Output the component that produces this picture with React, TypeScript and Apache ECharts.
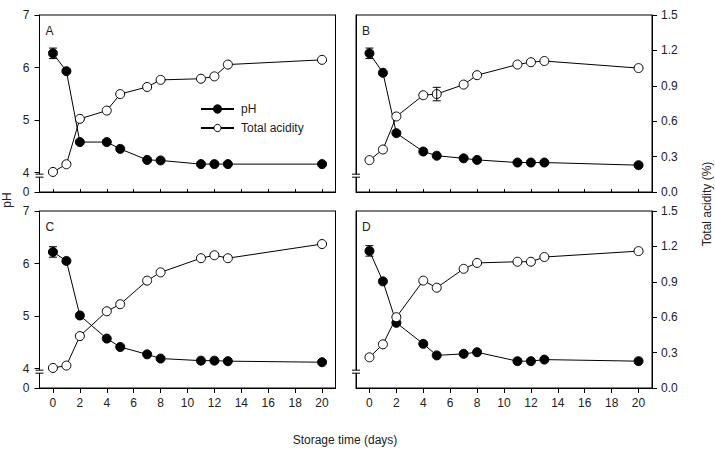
import React, { useEffect, useRef } from "react";
import * as echarts from "echarts";

// ---- data ----
const DAYS = [0, 1, 2, 4, 5, 7, 8, 11, 12, 13, 20];
const X_TICKS = [0, 2, 4, 6, 8, 10, 12, 14, 16, 18, 20];
const PH_TICKS = [4, 5, 6, 7];
const PH_BREAK_LABEL = "0";
const ACID_TICKS = [0, 0.3, 0.6, 0.9, 1.2, 1.5];
const PANEL_LABELS = ["A", "B", "C", "D"];

const PH_A = [6.27, 5.93, 4.58, 4.58, 4.45, 4.24, 4.23, 4.16, 4.16, 4.16, 4.16];
const PH_B = [6.27, 5.9, 4.75, 4.4, 4.32, 4.27, 4.24, 4.19, 4.19, 4.19, 4.14];
const PH_C = [6.22, 6.05, 5.01, 4.57, 4.41, 4.27, 4.19, 4.15, 4.15, 4.14, 4.12];
const PH_D = [6.24, 5.66, 4.87, 4.47, 4.25, 4.28, 4.31, 4.14, 4.14, 4.17, 4.14];

const ACID_A = [0.17, 0.235, 0.62, 0.69, 0.83, 0.89, 0.95, 0.96, 0.98, 1.08, 1.12];
const ACID_B = [0.27, 0.36, 0.64, 0.82, 0.83, 0.91, 0.99, 1.08, 1.1, 1.11, 1.05];
const ACID_C = [0.17, 0.19, 0.44, 0.65, 0.71, 0.91, 0.98, 1.1, 1.125, 1.1, 1.22];
const ACID_D = [0.26, 0.37, 0.6, 0.91, 0.85, 1.01, 1.06, 1.07, 1.07, 1.11, 1.16];

// error bars: [day, value, +/-]
const PH_ERR_A = [[0, 6.27, 0.1]];
const PH_ERR_B = [[0, 6.27, 0.1]];
const PH_ERR_C = [[0, 6.22, 0.1]];
const PH_ERR_D = [[0, 6.24, 0.1]];
const ACID_ERR_A: number[][] = [];
const ACID_ERR_B = [[5, 0.83, 0.057]];
const ACID_ERR_C: number[][] = [];
const ACID_ERR_D: number[][] = [];

const PH_SERIES = [PH_A, PH_B, PH_C, PH_D];
const ACID_SERIES = [ACID_A, ACID_B, ACID_C, ACID_D];
const PH_ERRS = [PH_ERR_A, PH_ERR_B, PH_ERR_C, PH_ERR_D];
const ACID_ERRS = [ACID_ERR_A, ACID_ERR_B, ACID_ERR_C, ACID_ERR_D];

// axis ranges
const PH_MIN = 3.629;
const PH_MAX = 7;
const X_MIN = -1;
const X_MAX = 21;

// ---- layout ----
const GRIDS = [
  { left: 39.5, top: 15, width: 296, height: 177 },
  { left: 356, top: 15, width: 296, height: 177 },
  { left: 39.5, top: 211, width: 296, height: 177 },
  { left: 356, top: 211, width: 296, height: 177 },
];
const FONT = "'Liberation Sans', Arial, sans-serif";
const TXT = "#222";

export default function App() {
  const ref = useRef<HTMLDivElement>(null);

  useEffect(() => {
    if (!ref.current) return;
    const chart = echarts.init(ref.current, undefined, { renderer: "svg" });

    const xAxes: any[] = [];
    const yAxes: any[] = [];
    const series: any[] = [];

    const errRender = (params: any, api: any) => {
      const x = api.value(0);
      const y = api.value(1);
      const e = api.value(2);
      const t = api.coord([x, y + e]);
      const b = api.coord([x, y - e]);
      const w = 4;
      const st = { stroke: "#000", lineWidth: 1 };
      return {
        type: "group",
        children: [
          { type: "line", shape: { x1: t[0], y1: t[1], x2: b[0], y2: b[1] }, style: st },
          { type: "line", shape: { x1: t[0] - w, y1: t[1], x2: t[0] + w, y2: t[1] }, style: st },
          { type: "line", shape: { x1: b[0] - w, y1: b[1], x2: b[0] + w, y2: b[1] }, style: st },
        ],
      };
    };

    GRIDS.forEach((g, i) => {
      const bottom = i >= 2;
      const leftCol = i % 2 === 0;
      xAxes.push({
        type: "value",
        gridIndex: i,
        min: X_MIN,
        max: X_MAX,
        position: "bottom",
        axisLine: { show: true, onZero: false, lineStyle: { color: "#000", width: 1 } },
        axisTick: {
          show: true,
          inside: !bottom,
          length: bottom ? 5 : 3,
          customValues: X_TICKS,
          lineStyle: { color: "#000" },
        },
        axisLabel: {
          show: bottom,
          customValues: X_TICKS,
          color: TXT,
          fontSize: 12,
          fontFamily: FONT,
          margin: 9,
        },
        splitLine: { show: false },
      });
      // pH axis (left)
      yAxes.push({
        type: "value",
        gridIndex: i,
        position: "left",
        min: PH_MIN,
        max: PH_MAX,
        axisLine: { show: true, onZero: false, lineStyle: { color: "#000", width: 1 } },
        axisTick: {
          show: leftCol,
          length: 5,
          customValues: [PH_MIN, ...PH_TICKS],
          lineStyle: { color: "#000" },
        },
        axisLabel: {
          show: leftCol,
          customValues: [PH_MIN, ...PH_TICKS],
          formatter: (v: number) => (Math.abs(v - PH_MIN) < 1e-6 ? PH_BREAK_LABEL : String(v)),
          color: TXT,
          fontSize: 12,
          fontFamily: FONT,
          margin: 10,
        },
        splitLine: { show: false },
      });
      // acidity axis (right)
      yAxes.push({
        type: "value",
        gridIndex: i,
        position: "right",
        min: 0,
        max: 1.5,
        interval: 0.3,
        axisLine: { show: true, onZero: false, lineStyle: { color: "#000", width: 1 } },
        axisTick: { show: !leftCol, length: 5, lineStyle: { color: "#000" } },
        axisLabel: {
          show: !leftCol,
          customValues: ACID_TICKS,
          formatter: (v: number) => v.toFixed(1),
          color: TXT,
          fontSize: 12,
          fontFamily: FONT,
          margin: 9,
        },
        splitLine: { show: false },
      });

      const phAxis = i * 2;
      const acAxis = i * 2 + 1;

      series.push({
        name: "pH",
        type: "line",
        xAxisIndex: i,
        yAxisIndex: phAxis,
        data: DAYS.map((d, k) => [d, PH_SERIES[i][k]]),
        symbol: "circle",
        symbolSize: 9,
        lineStyle: { color: "#000", width: 1 },
        itemStyle: { color: "#000", borderColor: "#000", borderWidth: 1 },
        z: 3,
      });
      series.push({
        name: "Total acidity",
        type: "line",
        xAxisIndex: i,
        yAxisIndex: acAxis,
        data: DAYS.map((d, k) => [d, ACID_SERIES[i][k]]),
        symbol: "circle",
        symbolSize: 9,
        lineStyle: { color: "#000", width: 1 },
        itemStyle: { color: "#fff", borderColor: "#000", borderWidth: 1 },
        z: 3,
      });
      if (PH_ERRS[i].length) {
        series.push({
          type: "custom",
          xAxisIndex: i,
          yAxisIndex: phAxis,
          data: PH_ERRS[i],
          renderItem: errRender,
          z: 4,
          silent: true,
        });
      }
      if (ACID_ERRS[i].length) {
        series.push({
          type: "custom",
          xAxisIndex: i,
          yAxisIndex: acAxis,
          data: ACID_ERRS[i],
          renderItem: errRender,
          z: 4,
          silent: true,
        });
      }
    });

    const option: any = {
      animation: false,
      backgroundColor: "#fff",
      textStyle: { fontFamily: FONT },
      grid: GRIDS.map((g) => ({
        ...g,
        show: true,
        borderColor: "#000",
        borderWidth: 1,
        backgroundColor: "transparent",
        containLabel: false,
      })),
      xAxis: xAxes,
      yAxis: yAxes,
      legend: {
        data: [
          { name: "pH", itemStyle: { color: "#000", borderColor: "#000" } },
          { name: "Total acidity", itemStyle: { color: "#fff", borderColor: "#000", borderWidth: 1 } },
        ],
        orient: "vertical",
        left: 195,
        top: 98,
        itemWidth: 33,
        itemHeight: 9,
        itemGap: 7,
        selectedMode: false,
        textStyle: { color: TXT, fontSize: 12, fontFamily: FONT, padding: [0, 0, 0, 2] },
      },
      series,
    };
    chart.setOption(option);

    // decorations: panel letters, axis breaks, axis titles
    const graphics: any[] = [];
    GRIDS.forEach((g, i) => {
      graphics.push({
        type: "text",
        left: g.left + 6,
        top: g.top + 10,
        style: { text: PANEL_LABELS[i], fill: TXT, font: `12px ${FONT}` },
      });
      const p = chart.convertToPixel({ xAxisIndex: i, yAxisIndex: i * 2 }, [X_MIN, 3.94]) as number[];
      const bx = p[0];
      const by = p[1];
      graphics.push({
        type: "rect",
        shape: { x: bx - 2, y: by - 1.5, width: 4, height: 3 },
        style: { fill: "#fff" },
        z: 100,
      });
      graphics.push({
        type: "line",
        shape: { x1: bx - 4, y1: by - 1.5, x2: bx + 4, y2: by - 1.5 },
        style: { stroke: "#000", lineWidth: 1 },
        z: 101,
      });
      graphics.push({
        type: "line",
        shape: { x1: bx - 4, y1: by + 1.5, x2: bx + 4, y2: by + 1.5 },
        style: { stroke: "#000", lineWidth: 1 },
        z: 101,
      });
    });
    graphics.push({
      type: "text",
      x: 345,
      y: 440,
      style: {
        text: "Storage time (days)",
        fill: TXT,
        font: `12px ${FONT}`,
        align: "center",
        verticalAlign: "middle",
      },
    });
    graphics.push({
      type: "text",
      x: 707,
      y: 204,
      rotation: Math.PI / 2,
      style: {
        text: "Total acidity (%)",
        fill: TXT,
        font: `12px ${FONT}`,
        align: "center",
        verticalAlign: "middle",
      },
    });
    graphics.push({
      type: "text",
      x: 7,
      y: 200,
      rotation: Math.PI / 2,
      style: {
        text: "pH",
        fill: TXT,
        font: `12px ${FONT}`,
        align: "center",
        verticalAlign: "middle",
      },
    });
    chart.setOption({ graphic: graphics });

    return () => chart.dispose();
  }, []);

  return (
    <div
      ref={ref}
      style={{ position: "fixed", left: 0, top: 0, width: 715, height: 453, background: "#fff" }}
    />
  );
}
